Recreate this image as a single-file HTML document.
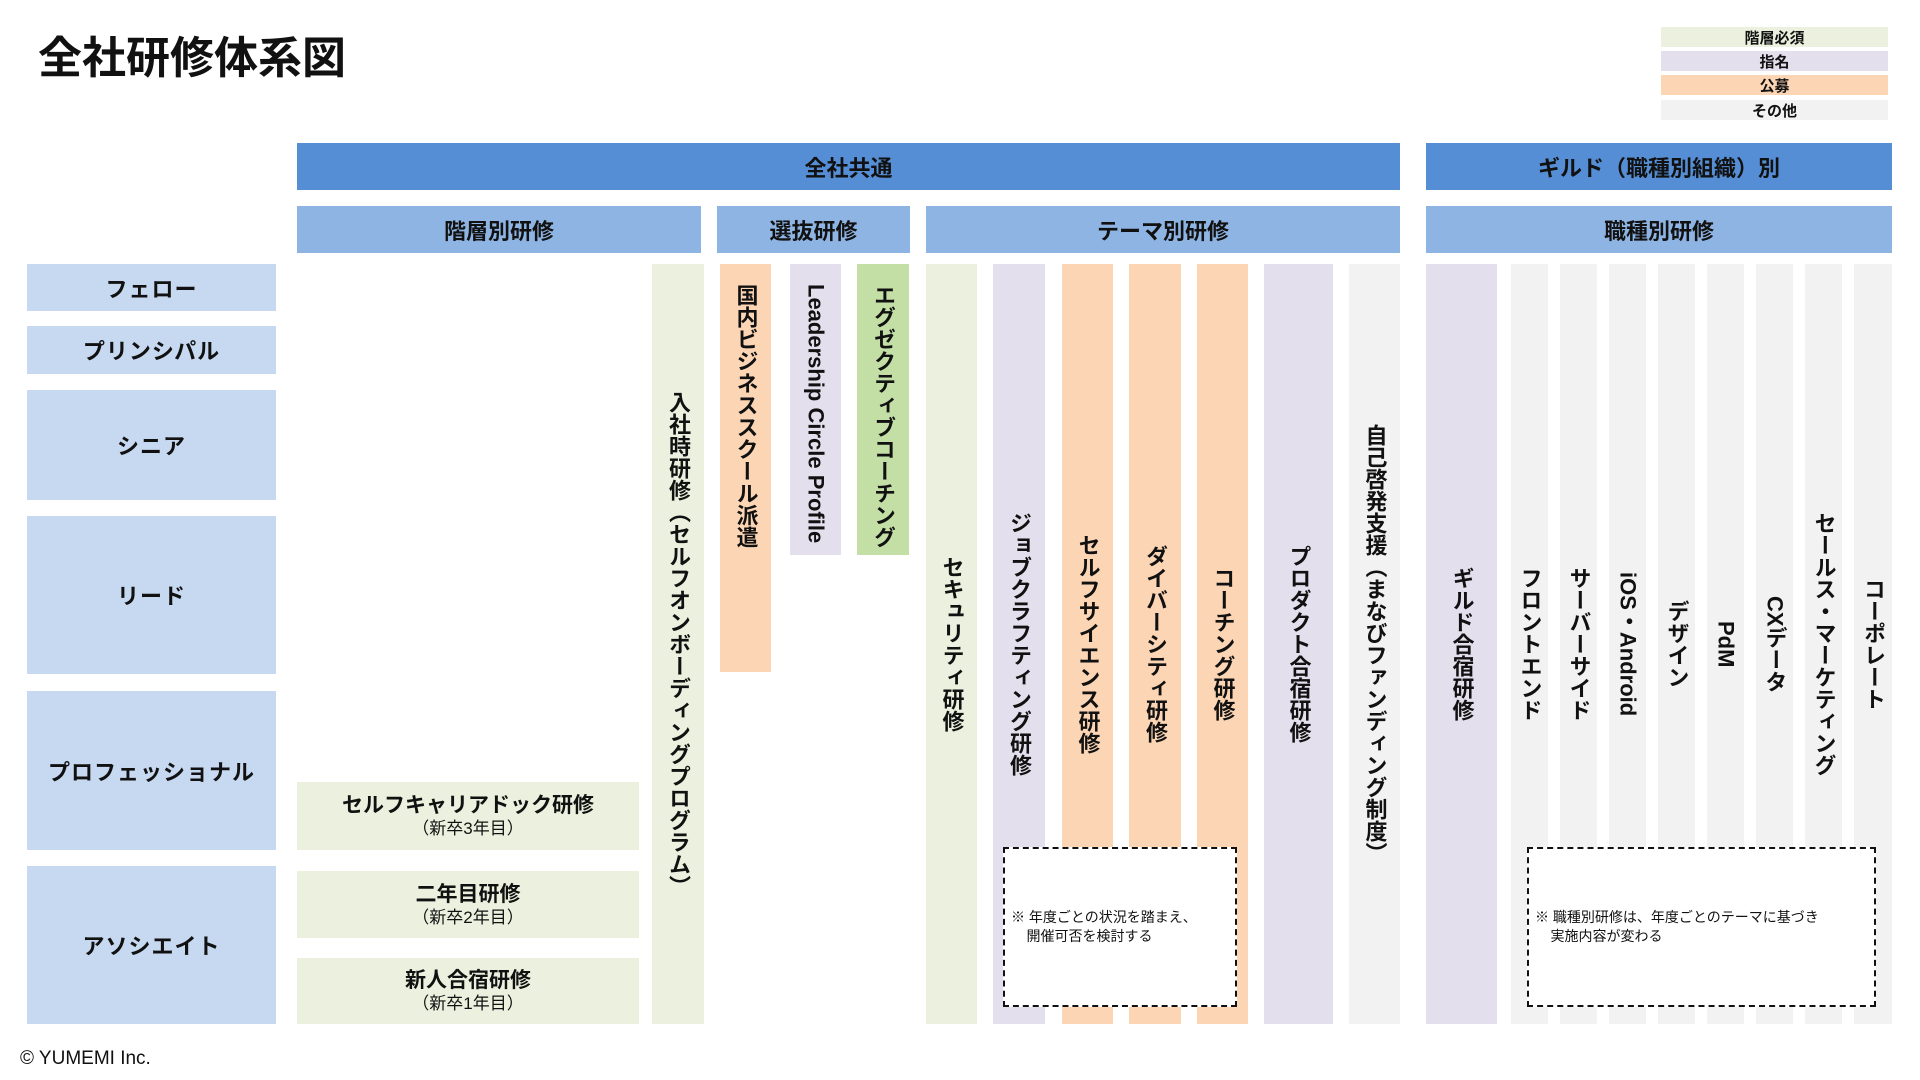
<!DOCTYPE html>
<html><head><meta charset="utf-8">
<style>
*{margin:0;padding:0;box-sizing:border-box}
body{width:1920px;height:1080px;background:#fff;position:relative;overflow:hidden;font-family:"Liberation Sans","Noto Sans CJK JP",sans-serif;color:#111}
.a{position:absolute}
.h1{background:#558ed5;color:#111;font-weight:bold;font-size:22px;display:flex;align-items:center;justify-content:center}
.h2{background:#8eb4e3;font-weight:bold;font-size:22px;display:flex;align-items:center;justify-content:center}
.lv{background:#c6d9f1;font-weight:bold;font-size:22px;display:flex;align-items:center;justify-content:center;left:27px;width:249px;letter-spacing:1px}
.bx{background:#ebf1de;left:297px;width:342px;display:flex;flex-direction:column;align-items:center;justify-content:center;font-weight:bold;font-size:21px;line-height:26px}
.bx small{font-size:17px;font-weight:normal;line-height:20px}
.col{top:264px;height:760px;display:flex;justify-content:center;align-items:center}
.col span{writing-mode:vertical-rl;font-size:22px;line-height:1;font-weight:bold}
.top{align-items:flex-start;padding-top:20px}
.g{background:#ebf1de}.p{background:#e4dfec}.o{background:#fcd5b5}.gr{background:#f2f2f2}.dg{background:#c3dfa6}
.lg{left:1661px;width:227px;height:20px;font-size:15px;font-weight:bold;display:flex;align-items:center;justify-content:center}
.dash{border:2.5px dashed #111;background:#fff;display:flex;align-items:center;font-size:14px;line-height:19px;padding-left:6px}
</style></head><body>
<div class="a" style="left:38px;top:22px;font-size:44px;font-weight:bold">全社研修体系図</div>
<div class="a lg g" style="top:27px">階層必須</div>
<div class="a lg p" style="top:51px">指名</div>
<div class="a lg o" style="top:75px">公募</div>
<div class="a lg gr" style="top:100px">その他</div>

<div class="a h1" style="left:297px;top:143px;width:1103px;height:47px">全社共通</div>
<div class="a h1" style="left:1426px;top:143px;width:466px;height:47px">ギルド（職種別組織）別</div>
<div class="a h2" style="left:297px;top:206px;width:404px;height:47px">階層別研修</div>
<div class="a h2" style="left:717px;top:206px;width:193px;height:47px">選抜研修</div>
<div class="a h2" style="left:926px;top:206px;width:474px;height:47px">テーマ別研修</div>
<div class="a h2" style="left:1426px;top:206px;width:466px;height:47px">職種別研修</div>

<div class="a lv" style="top:264px;height:47px">フェロー</div>
<div class="a lv" style="top:326px;height:48px">プリンシパル</div>
<div class="a lv" style="top:390px;height:110px">シニア</div>
<div class="a lv" style="top:516px;height:158px">リード</div>
<div class="a lv" style="top:691px;height:159px">プロフェッショナル</div>
<div class="a lv" style="top:866px;height:158px">アソシエイト</div>

<div class="a bx" style="top:782px;height:68px">セルフキャリアドック研修<small>（新卒3年目）</small></div>
<div class="a bx" style="top:871px;height:67px">二年目研修<small>（新卒2年目）</small></div>
<div class="a bx" style="top:958px;height:66px">新人合宿研修<small>（新卒1年目）</small></div>

<div class="a col g" style="left:652px;width:52px"><span>入社時研修（セルフオンボーディングプログラム）</span></div>
<div class="a col o top" style="left:720px;width:51px;height:408px"><span>国内ビジネススクール派遣</span></div>
<div class="a col p top" style="left:790px;width:51px;height:291px"><span>Leadership Circle Profile</span></div>
<div class="a col dg top" style="left:857px;width:52px;height:291px"><span>エグゼクティブコーチング</span></div>
<div class="a col g" style="left:926px;width:51px"><span>セキュリティ研修</span></div>
<div class="a col p" style="left:993px;width:52px"><span>ジョブクラフティング研修</span></div>
<div class="a col o" style="left:1062px;width:51px"><span>セルフサイエンス研修</span></div>
<div class="a col o" style="left:1129px;width:52px"><span>ダイバーシティ研修</span></div>
<div class="a col o" style="left:1197px;width:51px"><span>コーチング研修</span></div>
<div class="a col p" style="left:1264px;width:69px"><span>プロダクト合宿研修</span></div>
<div class="a col gr" style="left:1349px;width:51px"><span>自己啓発支援（まなびファンディング制度）</span></div>
<div class="a col p" style="left:1426px;width:71px"><span>ギルド合宿研修</span></div>
<div class="a col gr" style="left:1511px;width:37px"><span>フロントエンド</span></div>
<div class="a col gr" style="left:1560px;width:37px"><span>サーバーサイド</span></div>
<div class="a col gr" style="left:1609px;width:37px"><span>iOS・Android</span></div>
<div class="a col gr" style="left:1658px;width:37px"><span>デザイン</span></div>
<div class="a col gr" style="left:1707px;width:37px"><span>PdM</span></div>
<div class="a col gr" style="left:1756px;width:37px"><span>CXデータ</span></div>
<div class="a col gr" style="left:1805px;width:37px"><span>セールス・マーケティング</span></div>
<div class="a col gr" style="left:1854px;width:38px"><span>コーポレート</span></div>

<div class="a dash" style="left:1003px;top:847px;width:234px;height:160px"><div>※ 年度ごとの状況を踏まえ、<br>&nbsp;&nbsp;&nbsp;&nbsp;開催可否を検討する</div></div>
<div class="a dash" style="left:1527px;top:847px;width:349px;height:160px"><div>※ 職種別研修は、年度ごとのテーマに基づき<br>&nbsp;&nbsp;&nbsp;&nbsp;実施内容が変わる</div></div>

<div class="a" style="left:20px;top:1048px;font-size:19px">© YUMEMI Inc.</div>
</body></html>
